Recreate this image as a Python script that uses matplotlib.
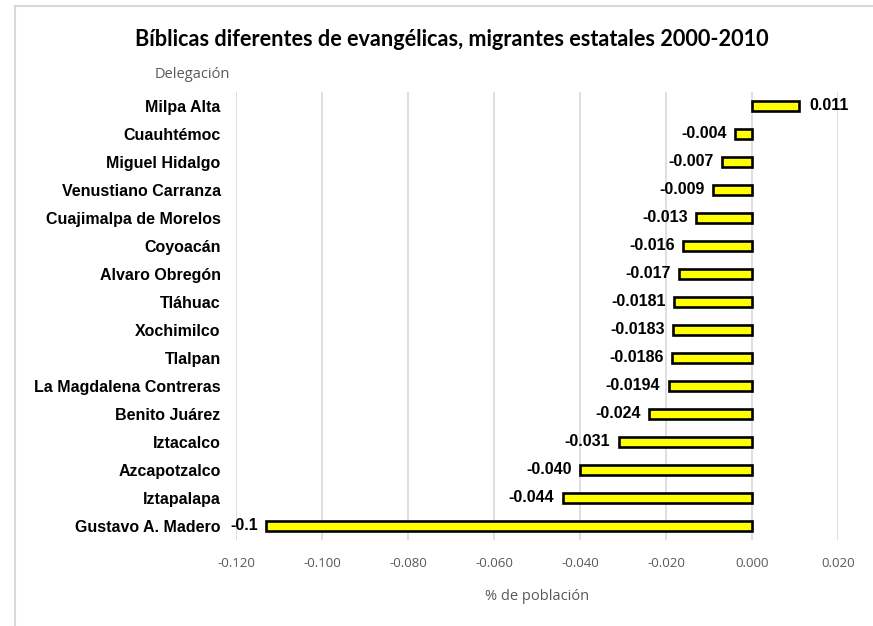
import numpy as np
import matplotlib
matplotlib.use("Agg")
import matplotlib.pyplot as plt
from matplotlib.patches import Rectangle

delegaciones = ["Milpa Alta", "Cuauhtémoc", "Miguel Hidalgo", "Venustiano Carranza",
                "Cuajimalpa de Morelos", "Coyoacán", "Alvaro Obregón", "Tláhuac",
                "Xochimilco", "Tlalpan", "La Magdalena Contreras", "Benito Juárez",
                "Iztacalco", "Azcapotzalco", "Iztapalapa", "Gustavo A. Madero"]
valores = [0.011, -0.004, -0.007, -0.009, -0.013, -0.016, -0.017, -0.0181,
           -0.0183, -0.0186, -0.0194, -0.024, -0.031, -0.040, -0.044, -0.113]
etiquetas = ["0.011", "-0.004", "-0.007", "-0.009", "-0.013", "-0.016", "-0.017", "-0.0181",
             "-0.0183", "-0.0186", "-0.0194", "-0.024", "-0.031", "-0.040", "-0.044", "-0.1"]
x_ticks = [-0.12, -0.10, -0.08, -0.06, -0.04, -0.02, 0.0, 0.02]

bold_font = ["Liberation Sans Narrow", "Liberation Sans"]
light = "Open Sans"
grey = "#595959"

fig = plt.figure(figsize=(8.73, 6.26), dpi=100)
ax = fig.add_axes([236 / 873, 1 - 540 / 626, (838 - 236) / 873, (540 - 92) / 626])

# outer chart frame (only top/left visible in the original crop)
fig.patches.append(Rectangle((15 / 873, -0.1), 1.2, 1 - 6 / 626 + 0.1, transform=fig.transFigure,
                             fill=False, edgecolor="#d9d9d9", linewidth=1.5))

pos = np.arange(len(delegaciones))
ax.barh(pos, valores, height=0.33, color="#ffff00", edgecolor="black", linewidth=1.9, zorder=3)

for p, v, t in zip(pos, valores, etiquetas):
    if v < 0:
        ax.annotate(t, (v, p), xytext=(-6, 0), textcoords="offset points", ha="right", va="center",
                    fontsize=11.5, fontweight="bold", family=bold_font)
    else:
        ax.annotate(t, (v, p), xytext=(7, 0), textcoords="offset points", ha="left", va="center",
                    fontsize=11.5, fontweight="bold", family=bold_font)

ax.set_xlim(-0.12, 0.02)
ax.set_ylim(len(delegaciones) - 0.5, -0.5)
ax.set_yticks(pos)
ax.set_yticklabels(delegaciones, fontsize=11.5, fontweight="bold", family=bold_font)
ax.set_xticks(x_ticks)
ax.set_xticklabels(["%.3f" % t for t in x_ticks], fontsize=9.5, family=light, color=grey)
ax.tick_params(axis="both", length=0)
ax.tick_params(axis="x", pad=12)
ax.tick_params(axis="y", pad=11)
for s in ax.spines.values():
    s.set_visible(False)
ax.grid(axis="x", color="#d9d9d9", linewidth=1.2, zorder=0)
ax.set_xlabel("% de población", fontsize=10.5, family=light, color=grey, labelpad=14)

fig.text(192 / 873, 1 - 75 / 626, "Delegación", ha="center", va="center",
         fontsize=10.5, family=light, color=grey)
fig.suptitle("Bíblicas diferentes de evangélicas, migrantes estatales 2000-2010",
             x=452 / 873, y=1 - 40 / 626, va="center", fontsize=15.6, fontweight="bold",
             family=["Lato", "Liberation Sans"])

fig.savefig("out.png", dpi=100)
